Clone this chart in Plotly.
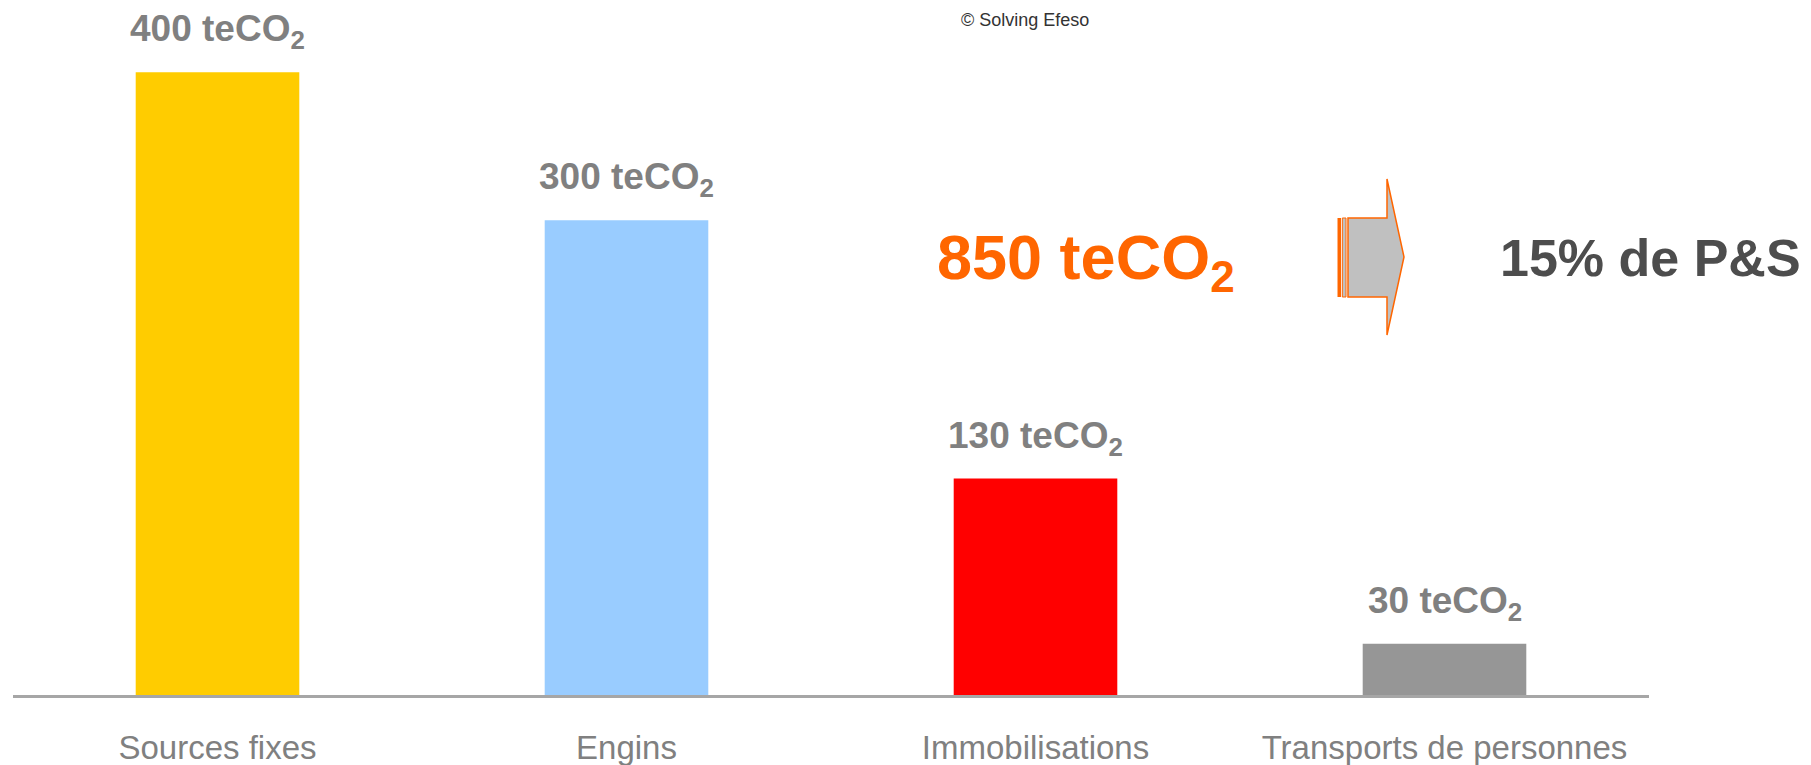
import plotly.graph_objects as go

# données
categories = ["Sources fixes", "Engins", "Immobilisations", "Transports de personnes"]
valeurs = [400, 305, 139, 33]   # hauteurs des barres telles que dessinées
etiquettes = ["400 teCO<sub>2</sub>", "300 teCO<sub>2</sub>",
              "130 teCO<sub>2</sub>", "30 teCO<sub>2</sub>"]
couleurs = ["#FFCC00", "#99CCFF", "#FF0000", "#969696"]
total = "850 teCO<sub>2</sub>"
part = "15% de P&S"

OFF = 8  # marge par défaut du <body>
W, H = 1811 - OFF, 765 - OFF
ml, mr, mt, mb = 13 - OFF, 162, 2, 70
pw, ph = W - ml - mr, H - mt - mb
police = "Arial, Liberation Sans, sans-serif"


def px(x, y):
    # pixels de la page -> coordonnées papier
    return (x - OFF - ml) / pw, (H - mb - (y - OFF)) / ph


fig = go.Figure()
fig.add_trace(go.Bar(
    x=categories, y=valeurs,
    marker=dict(color=couleurs, line=dict(width=0)),
    width=0.4, hoverinfo="skip",
))

# étiquettes au-dessus des barres
for cat, v, txt in zip(categories, valeurs, etiquettes):
    fig.add_annotation(x=cat, y=v, text=txt, showarrow=False,
                       xanchor="center", yanchor="bottom", yshift=16,
                       font=dict(family=police, size=37, color="#808080", weight="bold"))

# flèche
x0, y0 = px(1348, 218)
x1, _ = px(1387, 0)
_, ya = px(0, 179)
xt, yt = px(1404, 257)
_, yb = px(0, 335)
_, y1 = px(0, 297)
chemin = (f"M {x0},{y0} L {x1},{y0} L {x1},{ya} L {xt},{yt} "
          f"L {x1},{yb} L {x1},{y1} L {x0},{y1} Z")
fig.add_shape(type="path", path=chemin, xref="paper", yref="paper",
              fillcolor="#C0C0C0", line=dict(color="#FF6600", width=1.5))
a0, _ = px(1337.5, 0)
a1, _ = px(1341, 0)
fig.add_shape(type="rect", xref="paper", yref="paper", x0=a0, x1=a1, y0=y1, y1=y0,
              fillcolor="#FF6600", line=dict(width=0))
b0, _ = px(1342.3, 0)
b1, _ = px(1346, 0)
fig.add_shape(type="rect", xref="paper", yref="paper", x0=b0, x1=b1, y0=y1, y1=y0,
              fillcolor="#C0C0C0", line=dict(color="#FF6600", width=1))

# textes
tx, ty = px(935, 262)
fig.add_annotation(x=tx, y=ty, xref="paper", yref="paper", text=total, showarrow=False,
                   xanchor="left", yanchor="middle",
                   font=dict(family=police, size=63, color="#FF6600", weight="bold"))
tx, ty = px(1498, 258)
fig.add_annotation(x=tx, y=ty, xref="paper", yref="paper", text=part, showarrow=False,
                   xanchor="left", yanchor="middle",
                   font=dict(family=police, size=52, color="#4D4D4D", weight="bold"))
tx, ty = px(1025, OFF)
fig.add_annotation(x=tx, y=ty, xref="paper", yref="paper", text="© Solving Efeso",
                   showarrow=False, xanchor="center", yanchor="top",
                   font=dict(family=police, size=18, color="#333333"))

fig.update_layout(
    width=W, height=H,
    margin=dict(l=ml, r=mr, t=mt, b=mb, autoexpand=False),
    plot_bgcolor="white", paper_bgcolor="white",
    showlegend=False, bargap=0.6,
)
fig.update_xaxes(
    showline=True, linecolor="#A6A6A6", linewidth=2.5,
    showgrid=False, zeroline=False, ticks="", automargin=False,
    tickfont=dict(family=police, size=33, color="#808080"),
    ticklabelstandoff=22,
)
fig.update_yaxes(visible=False, range=[0, 440], showgrid=False, zeroline=False)

fig.write_html("out.html")
